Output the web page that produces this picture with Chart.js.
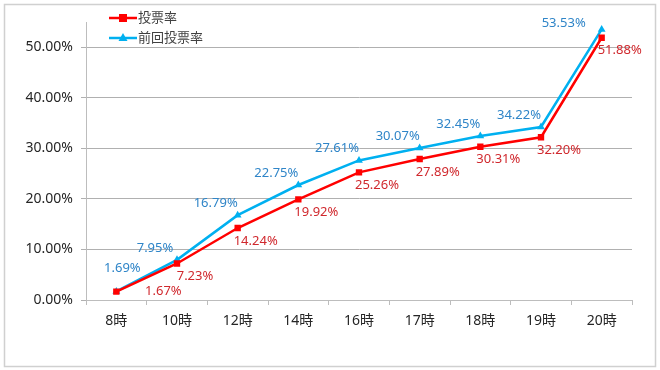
<!DOCTYPE html>
<html>
<head>
<meta charset="utf-8">
<script src="https://cdn.jsdelivr.net/npm/chart.js@4/dist/chart.umd.min.js"></script>
<style>
	html, body { margin: 0; padding: 0; background: #fff; }
	#wrap { position: relative; width: 660px; height: 370px; }
</style>
</head>
<body>
<div id="wrap"><canvas id="chart" width="660" height="370"></canvas></div>
<script>
const hours = ['8時', '10時', '12時', '14時', '16時', '17時', '18時', '19時', '20時'];
const turnout = [1.67, 7.23, 14.24, 19.92, 25.26, 27.89, 30.31, 32.20, 51.88];
const prevTurnout = [1.69, 7.95, 16.79, 22.75, 27.61, 30.07, 32.45, 34.22, 53.53];
const seriesNames = ['投票率', '前回投票率'];

const FONT = "'Noto Sans', 'Noto Sans CJK JP', sans-serif";
const RED = '#ff0000';
const BLUE = '#00b0f0';

// outer frame around the whole chart
const framePlugin = {
	id: 'frame',
	beforeDraw(chart) {
		const ctx = chart.ctx;
		ctx.save();
		ctx.fillStyle = '#fff';
		ctx.fillRect(0, 0, chart.width, chart.height);
		ctx.strokeStyle = '#d0d0d0';
		ctx.lineWidth = 1.5;
		ctx.strokeRect(4.5, 4.5, 651, 362);
		ctx.restore();
	},
};

// hand-drawn legend in the top left corner
const legendPlugin = {
	id: 'miniLegend',
	afterDraw(chart) {
		const ctx = chart.ctx;
		ctx.save();
		chart.data.datasets.forEach((ds, i) => {
			const y = 18 + i * 20;
			ctx.strokeStyle = ds.borderColor;
			ctx.lineWidth = 2.5;
			ctx.beginPath();
			ctx.moveTo(109, y);
			ctx.lineTo(137, y);
			ctx.stroke();
			ctx.fillStyle = ds.borderColor;
			if (ds.pointStyle === 'rect') {
				ctx.fillRect(119, y - 4, 8, 8);
			} else {
				ctx.beginPath();
				ctx.moveTo(123, y - 5);
				ctx.lineTo(127.5, y + 3);
				ctx.lineTo(118.5, y + 3);
				ctx.closePath();
				ctx.fill();
			}
			ctx.fillStyle = '#404040';
			ctx.font = '13px ' + FONT;
			ctx.textAlign = 'left';
			ctx.textBaseline = 'middle';
			ctx.fillText(ds.label, 138, y);
		});
		ctx.restore();
	},
};

// value labels: previous turnout above-left, current turnout below-right
const valueLabelPlugin = {
	id: 'valueLabels',
	afterDatasetsDraw(chart) {
		const ctx = chart.ctx;
		const last = hours.length - 1;
		ctx.save();
		ctx.font = '13px ' + FONT;
		ctx.textAlign = 'center';
		ctx.textBaseline = 'middle';
		chart.data.datasets.forEach((ds, di) => {
			const meta = chart.getDatasetMeta(di);
			meta.data.forEach((pt, i) => {
				let dx, dy;
				if (di === 0) {
					ctx.fillStyle = '#d0282d';
					dx = 18; dy = 13;
					if (i === 0) { dx = 47; dy = 0; }
				} else {
					ctx.fillStyle = '#2f85c8';
					dx = -22; dy = -12;
					if (i === 0) { dx = 6; dy = -23; }
					if (i === last) { dx = -38; dy = -6; }
				}
				ctx.fillText(ds.data[i].toFixed(2) + '%', pt.x + dx, pt.y + dy);
			});
		});
		ctx.restore();
	},
};

new Chart(document.getElementById('chart'), {
	type: 'line',
	data: {
		labels: hours,
		datasets: [
			{
				label: seriesNames[0],
				data: turnout,
				borderColor: RED,
				backgroundColor: RED,
				borderWidth: 2.5,
				pointStyle: 'rect',
				pointRadius: 4.5,
				pointBorderWidth: 0,
				tension: 0,
			},
			{
				label: seriesNames[1],
				data: prevTurnout,
				borderColor: BLUE,
				backgroundColor: BLUE,
				borderWidth: 2.5,
				pointStyle: 'triangle',
				pointRadius: 4.5,
				pointBorderWidth: 0,
				tension: 0,
			},
		],
	},
	options: {
		responsive: false,
		animation: false,
		layout: { padding: { left: 0, right: 28, top: 22, bottom: 0 } },
		plugins: {
			legend: { display: false },
			tooltip: { enabled: false },
		},
		scales: {
			x: {
				offset: true,
				grid: {
					offset: true,
					drawOnChartArea: false,
					drawTicks: true,
					tickLength: 5,
					color: '#bdbdbd',
				},
				border: { color: '#bdbdbd', width: 1 },
				ticks: {
					color: '#262626',
					font: { family: FONT, size: 14 },
					padding: 8,
					maxRotation: 0,
				},
				afterFit(scale) { scale.height = 70; },
			},
			y: {
				min: 0,
				max: 55,
				ticks: {
					stepSize: 10,
					color: '#262626',
					font: { family: FONT, size: 14 },
					padding: 8,
					callback: (v) => v.toFixed(2) + '%',
				},
				afterBuildTicks(scale) {
					scale.ticks = scale.ticks.filter((t) => t.value <= 50);
				},
				grid: { color: '#b0b0b0', tickLength: 5, lineWidth: 1 },
				border: { color: '#bdbdbd', width: 1 },
				afterFit(scale) { scale.width = 86; },
			},
		},
	},
	plugins: [framePlugin, legendPlugin, valueLabelPlugin],
});
</script>
</body>
</html>
